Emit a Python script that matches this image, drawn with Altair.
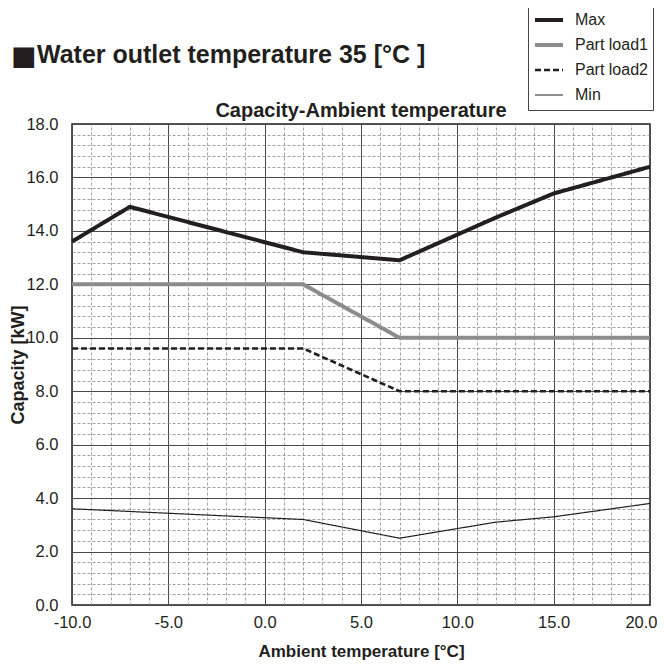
import altair as alt
import pandas as pd

FONT = "Liberation Sans, Arial, Helvetica, sans-serif"
INK = "#231f20"

# ---- data ----
series_names = ["Max", "Part load1", "Part load2", "Min"]
max_x = [-10, -7, 2, 7, 12, 15, 20]
max_y = [13.6, 14.9, 13.2, 12.9, 14.5, 15.4, 16.4]
pl1_x = [-10, 2, 7, 20]
pl1_y = [12.0, 12.0, 10.0, 10.0]
pl2_x = [-10, 2, 7, 20]
pl2_y = [9.6, 9.6, 8.0, 8.0]
min_x = [-10, 2, 7, 12, 15, 20]
min_y = [3.6, 3.2, 2.5, 3.1, 3.3, 3.8]

x_major = [-10, -5, 0, 5, 10, 15, 20]
y_major = [0, 2, 4, 6, 8, 10, 12, 14, 16, 18]
x_minor = [v for v in range(-10, 21) if v % 5 != 0]
y_minor = [round(i * 0.4, 1) for i in range(46) if i % 5 != 0]

heading_square = "■"
heading_text = "Water outlet temperature 35 [°C ]"
chart_title = "Capacity-Ambient temperature"
x_title = "Ambient temperature [°C]"
y_title = "Capacity [kW]"

rows = []
for name, xs, ys in [("Max", max_x, max_y), ("Part load1", pl1_x, pl1_y),
                     ("Part load2", pl2_x, pl2_y), ("Min", min_x, min_y)]:
    for i, (a, b) in enumerate(zip(xs, ys)):
        rows.append({"series": name, "temp": a, "cap": b, "order": i})
df = pd.DataFrame(rows)

xscale = alt.Scale(domain=[-10, 20], nice=False, zero=False)
yscale = alt.Scale(domain=[0, 18], nice=False, zero=False)
LABEL_EXPR = "(datum.value < 0 ? '-' : '') + format(abs(datum.value), '.1f')"

minor = alt.Chart(df).mark_point(opacity=0).encode(
    x=alt.X("temp:Q", scale=xscale,
            axis=alt.Axis(orient="top", values=x_minor, grid=True, gridDash=[3, 2],
                          gridColor="#8a8a8a", gridWidth=0.8, labels=False, ticks=False,
                          domain=False, title=None, minExtent=0, maxExtent=0)),
    y=alt.Y("cap:Q", scale=yscale,
            axis=alt.Axis(orient="right", values=y_minor, grid=True, gridDash=[3, 2],
                          gridColor="#8a8a8a", gridWidth=0.8, labels=False, ticks=False,
                          domain=False, title=None, minExtent=0, maxExtent=0)),
)

leg = alt.Legend(title=None, orient="none", legendX=456, legendY=-119)

lines = alt.Chart(df).mark_line(strokeCap="butt").encode(
    x=alt.X("temp:Q", scale=xscale,
            axis=alt.Axis(values=x_major, labelExpr=LABEL_EXPR, title=x_title, grid=True,
                          gridColor="#4a4a4a", gridWidth=1, ticks=False, domain=False,
                          labelPadding=9, labelFontSize=16.5, labelColor=INK, labelFont=FONT,
                          labelAlign={"expr": "datum.value >= 20 ? 'right' : 'center'"},
                          labelOffset={"expr": "datum.value >= 20 ? 7 : 0"},
                          titleFont=FONT, titleFontSize=17, titleFontWeight="bold",
                          titleColor=INK, titlePadding=13, labelFlush=False)),
    y=alt.Y("cap:Q", scale=yscale,
            axis=alt.Axis(values=y_major, labelExpr=LABEL_EXPR, title=y_title, grid=True,
                          gridColor="#4a4a4a", gridWidth=1, ticks=False, domain=False,
                          labelPadding=14, labelFontSize=16.5, labelColor=INK, labelFont=FONT,
                          titleFont=FONT, titleFontSize=18, titleFontWeight="bold",
                          titleColor=INK, titlePadding=-2, labelFlush=False)),
    color=alt.Color("series:N", scale=alt.Scale(domain=series_names,
                    range=[INK, "#8c8c8c", INK, INK]), legend=leg),
    strokeDash=alt.StrokeDash("series:N", scale=alt.Scale(domain=series_names,
                    range=[[1, 0], [1, 0], [6, 3], [1, 0]]), legend=leg),
    strokeWidth=alt.StrokeWidth("series:N", scale=alt.Scale(type="ordinal", domain=series_names,
                    range=[4, 4, 2.6, 1.2]), legend=leg),
    order="order:Q",
)

hd = pd.DataFrame({"sq": [heading_square], "t": [heading_text], "c": [chart_title]})
square = alt.Chart(hd).mark_text(align="left", baseline="alphabetic", font="DejaVu Sans",
                                 fontSize=27, color=INK).encode(
    text="sq:N", x=alt.value(-61), y=alt.value(-59))
heading = alt.Chart(hd).mark_text(align="left", baseline="alphabetic", font=FONT,
                                  fontSize=25, fontWeight="bold", color=INK).encode(
    text="t:N", x=alt.value(-35), y=alt.value(-61))
ctitle = alt.Chart(hd).mark_text(align="center", baseline="alphabetic", font=FONT,
                                 fontSize=20, fontWeight="bold", color=INK).encode(
    text="c:N", x=alt.value(289), y=alt.value(-7))

chart = alt.layer(minor, lines, square, heading, ctitle).resolve_axis(
    x="independent", y="independent"
).properties(
    width=578, height=481,
    autosize=alt.AutoSizeParams(type="none"),
    padding={"left": 64, "top": 116, "right": 7, "bottom": 56},
).configure_view(
    stroke=INK, strokeWidth=1.5
).configure_legend(
    strokeColor="#444", fillColor="white", padding=5, labelFont=FONT, labelFontSize=16,
    labelColor=INK, symbolType="stroke", symbolSize=784, clipHeight=20, rowPadding=5,
    labelOffset=10, cornerRadius=0
)

chart.save("out.html", embed_options={"renderer": "svg", "actions": False})
